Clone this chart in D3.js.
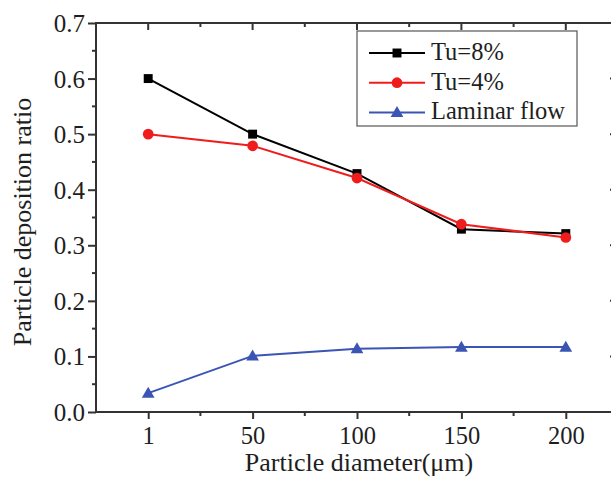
<!DOCTYPE html>
<html>
<head>
<meta charset="utf-8">
<script src="https://cdn.jsdelivr.net/npm/d3@7"></script>
<style>
  body { margin: 0; background: #fff; }
  svg text { font-family: "Liberation Serif", "Times New Roman", serif; fill: #1e1e1e; }
</style>
</head>
<body>
<svg id="chart" width="611" height="478"></svg>
<script>
// data
var diameters = ["1", "50", "100", "150", "200"];
var tu8 = [0.600, 0.500, 0.429, 0.329, 0.321];
var tu4 = [0.500, 0.479, 0.421, 0.338, 0.314];
var laminar = [0.034, 0.101, 0.114, 0.117, 0.117];
var yTicks = [0.0, 0.1, 0.2, 0.3, 0.4, 0.5, 0.6, 0.7];

var series = [
  { name: "Tu=8%", values: tu8, color: "#000000", shape: "square" },
  { name: "Tu=4%", values: tu4, color: "#f01c1c", shape: "circle" },
  { name: "Laminar flow", values: laminar, color: "#3a55b4", shape: "triangle" }
];

// plot frame
var plotLeft = 96, plotRight = 618, plotTop = 23, plotBottom = 412;

var svg = d3.select("#chart");

var x = d3.scalePoint()
  .domain(diameters)
  .range([plotLeft, plotRight])
  .padding(0.5);

var y = d3.scaleLinear()
  .domain([0, 0.7])
  .range([plotBottom, plotTop]);

// minor tick positions (halfway between the majors)
var xMinor = [];
for (var i = 0; i < diameters.length - 1; i++) {
  xMinor.push((x(diameters[i]) + x(diameters[i + 1])) / 2);
}
var yMinor = d3.range(0.05, 0.7, 0.1);

var axisColor = "#333";

// bottom axis
var gx = svg.append("g")
  .attr("transform", "translate(0," + plotBottom + ")")
  .call(d3.axisBottom(x).tickSize(7).tickSizeOuter(0));
gx.selectAll("text").attr("font-size", 24.5).attr("y", 32).attr("dy", 0);
gx.selectAll("line").attr("stroke", axisColor).attr("stroke-width", 2);
gx.select(".domain").remove();
gx.selectAll(".minor").data(xMinor).enter().append("line")
  .attr("x1", d => d).attr("x2", d => d)
  .attr("y1", 0).attr("y2", 4)
  .attr("stroke", axisColor).attr("stroke-width", 2);

// top axis, ticks inward
var gt = svg.append("g").attr("transform", "translate(0," + plotTop + ")");
gt.selectAll(".major").data(diameters).enter().append("line")
  .attr("x1", d => x(d)).attr("x2", d => x(d))
  .attr("y1", 0).attr("y2", 7)
  .attr("stroke", axisColor).attr("stroke-width", 2);
gt.selectAll(".minor").data(xMinor).enter().append("line")
  .attr("x1", d => d).attr("x2", d => d)
  .attr("y1", 0).attr("y2", 4)
  .attr("stroke", axisColor).attr("stroke-width", 2);

// left axis
var gy = svg.append("g")
  .attr("transform", "translate(" + plotLeft + ",0)")
  .call(d3.axisLeft(y).tickValues(yTicks).tickFormat(d3.format(".1f"))
    .tickSize(8).tickSizeOuter(0).tickPadding(3));
gy.selectAll("text").attr("font-size", 25).attr("dy", "0.34em");
gy.selectAll("line").attr("stroke", axisColor).attr("stroke-width", 2);
gy.select(".domain").remove();
gy.selectAll(".minor").data(yMinor).enter().append("line")
  .attr("x1", -4).attr("x2", 0)
  .attr("y1", d => y(d)).attr("y2", d => y(d))
  .attr("stroke", axisColor).attr("stroke-width", 2);

// right axis, ticks inward
svg.append("g").selectAll("line").data(yTicks).enter().append("line")
  .attr("x1", plotRight - 8).attr("x2", plotRight)
  .attr("y1", d => y(d)).attr("y2", d => y(d))
  .attr("stroke", axisColor).attr("stroke-width", 2);

// frame
svg.append("rect")
  .attr("x", plotLeft).attr("y", plotTop)
  .attr("width", plotRight - plotLeft).attr("height", plotBottom - plotTop)
  .attr("fill", "none").attr("stroke", axisColor).attr("stroke-width", 2);

// markers
var symbols = { square: d3.symbolSquare, circle: d3.symbolCircle, triangle: d3.symbolTriangle };
var sizes = { square: 80, circle: 90, triangle: 70 };

function drawMarker(g, shape, color, cx, cy) {
  g.append("path")
    .attr("d", d3.symbol().type(symbols[shape]).size(sizes[shape])())
    .attr("transform", "translate(" + cx + "," + (cy + (shape === "triangle" ? 1 : 0)) + ")")
    .attr("fill", color);
}

var line = d3.line()
  .x((d, i) => x(diameters[i]))
  .y(d => y(d));

series.forEach(function (s) {
  svg.append("path")
    .datum(s.values)
    .attr("d", line)
    .attr("fill", "none")
    .attr("stroke", s.color)
    .attr("stroke-width", 2);
  var g = svg.append("g");
  s.values.forEach(function (v, i) {
    drawMarker(g, s.shape, s.color, x(diameters[i]), y(v));
  });
});

// legend
var lg = svg.append("g");
lg.append("rect")
  .attr("x", 357).attr("y", 31)
  .attr("width", 220).attr("height", 95)
  .attr("fill", "#fff").attr("stroke", "#555").attr("stroke-width", 1.2);
series.forEach(function (s, i) {
  var ly = 53 + i * 29.7;
  lg.append("line")
    .attr("x1", 369).attr("x2", 425)
    .attr("y1", ly).attr("y2", ly)
    .attr("stroke", s.color).attr("stroke-width", 2);
  drawMarker(lg, s.shape, s.color, 397, ly);
  lg.append("text")
    .attr("x", 431).attr("y", ly + 7)
    .attr("font-size", 24.5)
    .text(s.name);
});

// axis titles
svg.append("text")
  .attr("x", 359).attr("y", 471)
  .attr("text-anchor", "middle")
  .attr("font-size", 26)
  .text("Particle diameter(\u03bcm)");

svg.append("text")
  .attr("transform", "translate(31,222) rotate(-90)")
  .attr("text-anchor", "middle")
  .attr("font-size", 26)
  .text("Particle deposition ratio");
</script>
</body>
</html>
